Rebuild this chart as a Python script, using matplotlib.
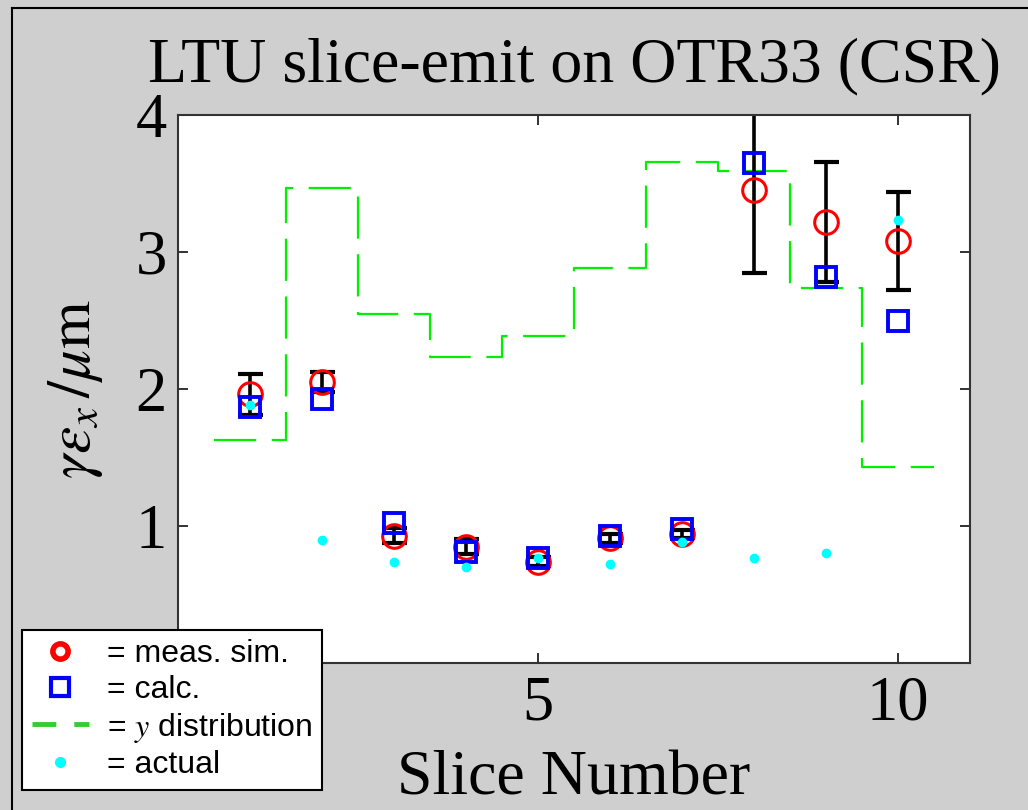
import numpy as np
import matplotlib
matplotlib.use("Agg")
import matplotlib.pyplot as plt
from matplotlib.lines import Line2D

# ── data ───────────────────────────────────────────────────────────────────────
slices = np.arange(1, 11)
meas_sim = [1.96, 2.05, 0.93, 0.85, 0.74, 0.91, 0.94, 3.45, 3.22, 3.08]
meas_err = [0.15, 0.075, 0.055, 0.055, 0.035, 0.035, 0.03, 0.60, 0.44, 0.36]
calc = [1.87, 1.93, 1.02, 0.81, 0.77, 0.93, 0.98, 3.65, 2.82, 2.50]
actual = [1.88, 0.90, 0.74, 0.70, 0.77, 0.72, 0.88, 0.77, 0.80, 3.23]
y_dist = [1.63, 3.47, 2.55, 2.23, 2.39, 2.88, 3.66, 3.59, 2.74, 1.43]
xticks = [5, 10]
yticks = [1, 2, 3, 4]

W, H = 1028, 810
BG = "#cfcfcf"
SERIF = "Liberation Serif"

plt.rcParams["mathtext.fontset"] = "stix"

fig = plt.figure(figsize=(W / 100, H / 100), dpi=100, facecolor=BG)
ax = fig.add_axes([178 / W, 1 - 663 / H, (970 - 178) / W, (663 - 115) / H])
ax.set_facecolor("white")

# y distribution as dashed stairs, one step per slice
edges = np.append(slices - 0.5, slices[-1] + 0.5)
ax.step(edges, np.append(y_dist, y_dist[-1]), where="post", color="#00f000",
        lw=1.6, dashes=(19, 7), zorder=1)

ax.errorbar(slices, meas_sim, yerr=meas_err, fmt="none", ecolor="black",
            elinewidth=2.6, capsize=9, capthick=3, zorder=2)
ax.plot(slices, meas_sim, ls="none", marker="o", ms=17, mfc="none",
        mec="red", mew=2.2, zorder=3)
ax.plot(slices, calc, ls="none", marker="s", ms=15, mfc="none",
        mec="blue", mew=2.8, zorder=4)
ax.plot(slices, actual, ls="none", marker="o", ms=6, color="cyan", mec="cyan",
        zorder=5)

ax.set_xlim(0, 11)
ax.set_ylim(0, 4)
ax.set_xticks(xticks)
ax.set_yticks(yticks)
ax.tick_params(direction="in", top=True, right=True, length=7, width=1.3,
               labelsize=45, color="#222222")
ax.tick_params(axis="x", pad=9)
ax.tick_params(axis="y", pad=8)
for lab in ax.get_xticklabels() + ax.get_yticklabels():
    lab.set_family(SERIF)
for sp in ax.spines.values():
    sp.set_color("#333333")
    sp.set_linewidth(1.5)

ax.set_title("LTU slice-emit on OTR33 (CSR)", family=SERIF, fontsize=46, pad=24)
ax.set_xlabel("Slice Number", family=SERIF, fontsize=46, labelpad=12)
ax.set_ylabel(r"$\gamma\varepsilon_x\,/\mu\mathrm{m}$", fontsize=44, labelpad=22)

handles = [
    Line2D([], [], ls="none", marker="o", ms=11, mfc="white", mec="red", mew=4),
    Line2D([], [], ls="none", marker="s", ms=13, mfc="white", mec="blue", mew=3),
    Line2D([], [], color="#33cc33", lw=3.5, dashes=(4.9, 3.7)),
    Line2D([], [], ls="none", marker="o", ms=7, color="cyan", mec="cyan"),
]
labels = ["= meas. sim.", "= calc.", r"= $y$ distribution", "= actual"]
leg = ax.legend(handles, labels, loc="lower left",
                bbox_to_anchor=(22 / W, 1 - 790 / H),
                bbox_transform=fig.transFigure, borderaxespad=0,
                prop={"family": "Liberation Sans", "size": 23},
                handlelength=1.8, handletextpad=0.55, labelspacing=0.18,
                borderpad=0.3, frameon=True, fancybox=False)
leg.get_frame().set_edgecolor("black")
leg.get_frame().set_linewidth(1.5)
leg.get_frame().set_alpha(1)
leg.set_zorder(10)

# frame line at the left and top edge of the figure
fig.add_artist(Line2D([12 / W, 12 / W], [0, 1 - 8 / H], transform=fig.transFigure,
                      color="black", lw=1.5))
fig.add_artist(Line2D([12 / W, 1], [1 - 8 / H, 1 - 8 / H], transform=fig.transFigure,
                      color="black", lw=1.5))

fig.savefig("out.png", dpi=100, facecolor=BG)
